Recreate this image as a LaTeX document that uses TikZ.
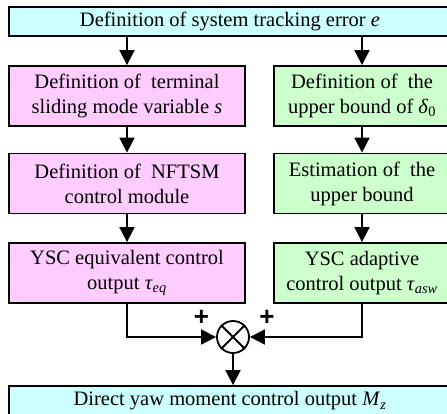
\documentclass[tikz,border=0pt]{standalone}
\usepackage{fontspec}
\setmainfont{Liberation Serif}
\newfontfamily\signfont{Liberation Sans}
\usetikzlibrary{arrows.meta}
\definecolor{errcyan}{RGB}{204,255,255}
\definecolor{smcpink}{RGB}{255,204,255}
\definecolor{adpgreen}{RGB}{204,255,204}

\begin{document}
\begin{tikzpicture}[x=1pt,y=1pt,
  blk/.style={draw,line width=1.8pt,align=center,inner sep=0pt,font=\fontsize{20.5}{25}\selectfont},
  wide/.style={blk,fill=errcyan,minimum width=442pt,minimum height=29pt},
  lbox/.style={blk,fill=smcpink,minimum width=236pt,minimum height=60pt},
  rbox/.style={blk,fill=adpgreen,minimum width=176pt,minimum height=60pt},
  sign/.style={inner sep=0pt,font=\signfont\bfseries\fontsize{26}{28}\selectfont},
  arr/.style={line width=1.8pt,-{Triangle[length=15pt,width=15pt]}}]
\useasboundingbox (0,0) rectangle (447,-414);
\clip (0,0) rectangle (447,-414);

\node[wide] (err) at (230,-21.5) {Definition of system tracking error \textit{e}};

\node[lbox] (l1) at (127,-96) {Definition of~ terminal\\sliding mode variable \textit{s}};
\node[lbox] (l2) at (127,-183.5) {Definition of~ NFTSM\\control module};
\node[lbox] (l3) at (127,-273) {YSC equivalent control\\output \textit{τ}\textsubscript{\textit{eq}}};

\node[rbox] (r1) at (362,-96) {Definition of~ the\\upper bound of \textit{δ}\textsubscript{0}};
\node[rbox] (r2) at (362,-183.5) {Estimation of~ the\\upper bound};
\node[rbox] (r3) at (362,-273) {YSC adaptive\\control output \textit{τ}\textsubscript{\textit{asw}}};

\node[draw,circle,line width=1.8pt,minimum size=32pt,inner sep=0pt] (sum) at (233,-337) {};
\draw[line width=1.8pt] (sum.north west) -- (sum.south east);
\draw[line width=1.8pt] (sum.north east) -- (sum.south west);
\node[sign] (plusL) at (201.5,-318) {+};
\node[sign] (plusR) at (267,-318) {+};

\node[wide,minimum height=30pt] (out) at (230,-401) {Direct yaw moment control output \textit{M}\textsubscript{\textit{z}}};

\draw[arr] (l1.north |- err.south) -- (l1.north);
\draw[arr] (r1.north |- err.south) -- (r1.north);
\draw[arr] (l1.south) -- (l2.north);
\draw[arr] (l2.south) -- (l3.north);
\draw[arr] (r1.south) -- (r2.north);
\draw[arr] (r2.south) -- (r3.north);
\draw[arr] (l3.south) |- (sum.west);
\draw[arr] (r3.south) |- (sum.east);
\draw[arr] (sum.south) -- (sum.south |- out.north);

\end{tikzpicture}
\end{document}
